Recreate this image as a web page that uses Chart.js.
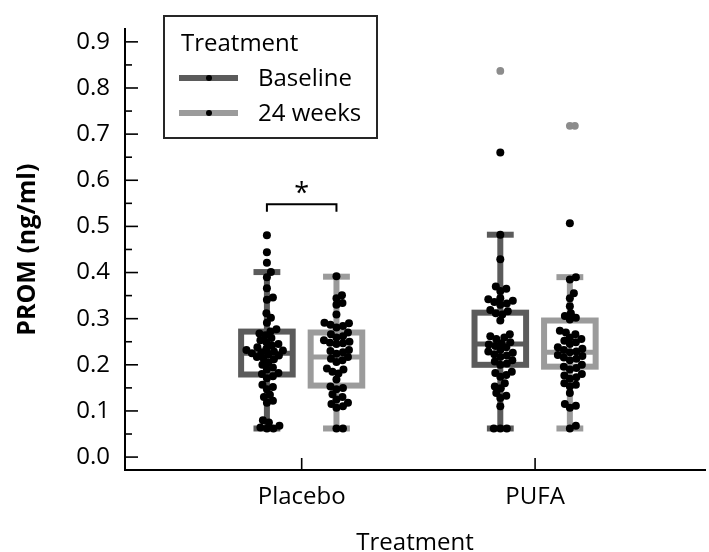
<!DOCTYPE html>
<html>
<head>
<meta charset="utf-8">
<script src="https://cdn.jsdelivr.net/npm/chart.js@4.4.1/dist/chart.umd.min.js"></script>
<style>
  html, body { margin: 0; padding: 0; background: #fff; }
  #wrap { width: 709px; height: 552px; }
</style>
</head>
<body>
<div id="wrap"><canvas id="promChart" width="709" height="552"></canvas></div>
<script>
const groups = ['Placebo', 'PUFA'];
const seriesNames = ['Baseline', '24 weeks'];
const yTicks = [0, 0.1, 0.2, 0.3, 0.4, 0.5, 0.6, 0.7, 0.8, 0.9];

// box stats per group: [lower whisker, q1, median, q3, upper whisker]
const baselineBox = [[0.062, 0.179, 0.225, 0.272, 0.401], [0.062, 0.200, 0.245, 0.313, 0.482]];
const weeksBox = [[0.062, 0.155, 0.217, 0.270, 0.391], [0.062, 0.196, 0.227, 0.296, 0.390]];

// grey outlier markers of the boxes
const baselineFliers = [[], [0.837]];
const weeksFliers = [[], [0.718, 0.718]];

// individual subjects (black dots)
const placeboBaseline = [0.062, 0.062, 0.064, 0.068, 0.075, 0.08, 0.118, 0.122, 0.13, 0.135,
  0.147, 0.152, 0.157, 0.171, 0.175, 0.18, 0.182, 0.19, 0.194, 0.2, 0.205,
  0.212, 0.214, 0.217, 0.22, 0.222, 0.225, 0.227, 0.229, 0.231, 0.232,
  0.235, 0.238, 0.242, 0.245, 0.249, 0.253, 0.258, 0.264, 0.268, 0.272, 0.277,
  0.291, 0.302, 0.312, 0.341, 0.346, 0.366, 0.39, 0.401, 0.421, 0.444, 0.481];
const placeboWeeks = [0.062, 0.062, 0.107, 0.11, 0.115, 0.118, 0.125, 0.13, 0.136,
  0.147, 0.15, 0.153, 0.168, 0.181, 0.185, 0.19, 0.192, 0.206, 0.21, 0.213, 0.217,
  0.224, 0.227, 0.23, 0.232, 0.245, 0.247, 0.248, 0.25, 0.253, 0.259, 0.262, 0.266, 0.27,
  0.281, 0.284, 0.287, 0.29, 0.291, 0.309, 0.33, 0.334, 0.344, 0.351, 0.392];
const pufaBaseline = [0.062, 0.062, 0.062, 0.11, 0.128, 0.133, 0.139, 0.149, 0.153, 0.16,
  0.174, 0.178, 0.182, 0.185, 0.2, 0.203, 0.207, 0.21, 0.217, 0.22, 0.223, 0.226, 0.229, 0.232,
  0.238, 0.241, 0.244, 0.247, 0.249, 0.256, 0.259, 0.262, 0.266, 0.296,
  0.309, 0.312, 0.316, 0.319, 0.33, 0.333, 0.336, 0.339, 0.342, 0.344,
  0.36, 0.365, 0.37, 0.429, 0.482, 0.66];
const pufaWeeks = [0.062, 0.068, 0.107, 0.111, 0.115, 0.139, 0.153, 0.157, 0.16,
  0.17, 0.173, 0.177, 0.18, 0.19, 0.193, 0.196, 0.2, 0.21, 0.213, 0.216, 0.219, 0.221,
  0.227, 0.229, 0.232, 0.235, 0.238, 0.245, 0.249, 0.252, 0.256, 0.259, 0.266, 0.27, 0.274,
  0.298, 0.302, 0.306, 0.312, 0.327, 0.344, 0.355, 0.385, 0.39, 0.507];

// significance bracket (Placebo, baseline vs 24 weeks)
const sigGroup = 0;
const sigLevel = 0.548;
const sigLabel = '*';

// styles
const seriesColors = ['#5b5b5b', '#9b9b9b'];
const flierColor = '#8c8c8c';
const boxShift = 0.149;   // in category units
const boxWidth = 0.221;
const capWidth = 0.115;
const FONT = '"Open Sans", "Noto Sans", sans-serif';

function strokeLine(ctx, x1, y1, x2, y2) {
  ctx.beginPath();
  ctx.moveTo(x1, y1);
  ctx.lineTo(x2, y2);
  ctx.stroke();
}

// box and whiskers under the dots
const boxPlugin = {
  id: 'boxes',
  beforeDatasetsDraw(chart) {
    const { ctx, scales: { x, y } } = chart;
    const halfW = (x.getPixelForValue(boxWidth) - x.getPixelForValue(0)) / 2;
    const capHalf = (x.getPixelForValue(capWidth) - x.getPixelForValue(0)) / 2;
    [[baselineBox, seriesColors[0], -boxShift], [weeksBox, seriesColors[1], boxShift]].forEach(([boxes, color, shift]) => {
      boxes.forEach((b, i) => {
        const cx = x.getPixelForValue(i + shift);
        const [lo, q1, med, q3, hi] = b.map(v => y.getPixelForValue(v));
        ctx.save();
        ctx.strokeStyle = color;
        ctx.lineWidth = 6;
        strokeLine(ctx, cx, hi, cx, q3);
        strokeLine(ctx, cx, q1, cx, lo);
        strokeLine(ctx, cx - capHalf, hi, cx + capHalf, hi);
        strokeLine(ctx, cx - capHalf, lo, cx + capHalf, lo);
        ctx.fillStyle = '#fff';
        ctx.fillRect(cx - halfW, q3, halfW * 2, q1 - q3);
        ctx.strokeRect(cx - halfW, q3, halfW * 2, q1 - q3);
        ctx.lineWidth = 5;
        strokeLine(ctx, cx - halfW, med, cx + halfW, med);
        ctx.restore();
      });
    });
  }
};

// inward tick marks, significance bracket and legend
const decorPlugin = {
  id: 'decor',
  afterDatasetsDraw(chart) {
    const { ctx, chartArea, scales: { x, y } } = chart;
    ctx.save();
    ctx.strokeStyle = '#000';
    ctx.lineWidth = 1.6;
    yTicks.forEach(v => {
      const py = y.getPixelForValue(v);
      strokeLine(ctx, chartArea.left, py, chartArea.left + 13, py);
      const pm = y.getPixelForValue(v + 0.05);
      if (pm > chartArea.top) strokeLine(ctx, chartArea.left, pm, chartArea.left + 7, pm);
    });
    groups.forEach((g, i) => {
      const px = x.getPixelForValue(i);
      strokeLine(ctx, px, chartArea.bottom, px, chartArea.bottom - 12);
    });

    // bracket
    const xl = x.getPixelForValue(sigGroup - boxShift);
    const xr = x.getPixelForValue(sigGroup + boxShift);
    const yb = y.getPixelForValue(sigLevel);
    const yd = y.getPixelForValue(sigLevel - 0.016);
    ctx.lineWidth = 2;
    ctx.beginPath();
    ctx.moveTo(xl, yd);
    ctx.lineTo(xl, yb);
    ctx.lineTo(xr, yb);
    ctx.lineTo(xr, yd);
    ctx.stroke();
    ctx.fillStyle = '#000';
    ctx.font = '27px ' + FONT;
    ctx.textAlign = 'center';
    ctx.textBaseline = 'alphabetic';
    ctx.fillText(sigLabel, (xl + xr) / 2, yb - 2);

    // legend
    const lx = 164, ly = 16, lw = 213, lh = 122;
    ctx.font = '24px ' + FONT;
    ctx.fillStyle = '#fff';
    ctx.fillRect(lx, ly, lw, lh);
    ctx.strokeStyle = '#262626';
    ctx.lineWidth = 2;
    ctx.strokeRect(lx, ly, lw, lh);
    ctx.fillStyle = '#000';
    ctx.textAlign = 'left';
    ctx.textBaseline = 'middle';
    ctx.fillText('Treatment', 181, 44);
    seriesNames.forEach((name, k) => {
      const yy = 78 + k * 35;
      ctx.strokeStyle = seriesColors[k];
      ctx.lineWidth = 6;
      strokeLine(ctx, 179, yy, 238, yy);
      ctx.fillStyle = '#000';
      ctx.beginPath();
      ctx.arc(209, yy, 3, 0, Math.PI * 2);
      ctx.fill();
      ctx.fillText(name, 258, yy + 1);
    });
    ctx.restore();
  }
};

const pointSets = [
  { values: placeboBaseline, group: 0, shift: -boxShift },
  { values: placeboWeeks, group: 0, shift: boxShift },
  { values: pufaBaseline, group: 1, shift: -boxShift },
  { values: pufaWeeks, group: 1, shift: boxShift }
];
const flierSets = [
  { values: baselineFliers[0], group: 0, shift: -boxShift },
  { values: weeksFliers[0], group: 0, shift: boxShift },
  { values: baselineFliers[1], group: 1, shift: -boxShift },
  { values: weeksFliers[1], group: 1, shift: boxShift }
];

const datasets = pointSets.map((s, i) => ({
  label: 'dots' + i,
  data: s.values.map(v => ({ x: s.group + s.shift, y: v })),
  backgroundColor: '#000',
  pointRadius: 4,
  pointBorderWidth: 0
}));
datasets.push({
  label: 'fliers',
  data: [],
  backgroundColor: flierColor,
  pointRadius: 3.9,
  pointBorderWidth: 0
});

const ctx = document.getElementById('promChart').getContext('2d');
const chart = new Chart(ctx, {
  type: 'scatter',
  data: { datasets: datasets },
  options: {
    responsive: false,
    animation: false,
    events: [],
    layout: { padding: { top: 21, left: 0, right: 0, bottom: 0 } },
    plugins: { legend: { display: false }, tooltip: { enabled: false } },
    scales: {
      x: {
        type: 'linear',
        min: -0.757,
        max: 1.728,
        afterBuildTicks: scale => { scale.ticks = groups.map((g, i) => ({ value: i })); },
        afterFit: scale => { scale.height = 82; },
        grid: { drawOnChartArea: false, drawTicks: false },
        border: { display: true, color: '#000', width: 2 },
        ticks: {
          color: '#000',
          padding: 13,
          font: { family: FONT, size: 24 },
          callback: v => groups[v]
        },
        title: {
          display: true,
          text: 'Treatment',
          color: '#000',
          padding: 0,
          font: { family: FONT, size: 24, lineHeight: 0.77 }
        }
      },
      y: {
        min: -0.028,
        max: 0.927,
        afterBuildTicks: scale => { scale.ticks = yTicks.map(v => ({ value: v })); },
        afterFit: scale => { scale.width = 125; },
        grid: { drawOnChartArea: false, drawTicks: false },
        border: { display: true, color: '#000', width: 2 },
        ticks: {
          color: '#000',
          padding: 15,
          font: { family: FONT, size: 24 },
          callback: v => v.toFixed(1)
        },
        title: {
          display: true,
          text: 'PROM (ng/ml)',
          color: '#000',
          padding: { top: 13, bottom: 0 },
          font: { family: FONT, size: 25, weight: 'bold', lineHeight: 1.2 }
        }
      }
    }
  },
  plugins: [boxPlugin, decorPlugin]
});

// lay the dots out as a beeswarm around each box centre, using the chart's scales
function swarm(values, centre, minDist) {
  const xs = chart.scales.x, ys = chart.scales.y;
  const cx = xs.getPixelForValue(centre);
  const placed = [];
  return values.slice().sort((a, b) => a - b).map(v => {
    const py = ys.getPixelForValue(v);
    let off = 0;
    for (let k = 0; k < 400; k++) {
      const cand = (k % 2 ? 1 : -1) * Math.ceil(k / 2) * 0.5;
      const clash = placed.some(p => (p.x - (cx + cand)) ** 2 + (p.y - py) ** 2 < minDist * minDist);
      if (!clash) { off = cand; break; }
    }
    placed.push({ x: cx + off, y: py });
    return { x: xs.getValueForPixel(cx + off), y: v };
  });
}

pointSets.forEach((s, i) => {
  chart.data.datasets[i].data = swarm(s.values, s.group + s.shift, 6.2);
});
chart.data.datasets[4].data = [].concat(...flierSets.map(s => swarm(s.values, s.group + s.shift, 5)));
chart.update('none');
</script>
</body>
</html>
